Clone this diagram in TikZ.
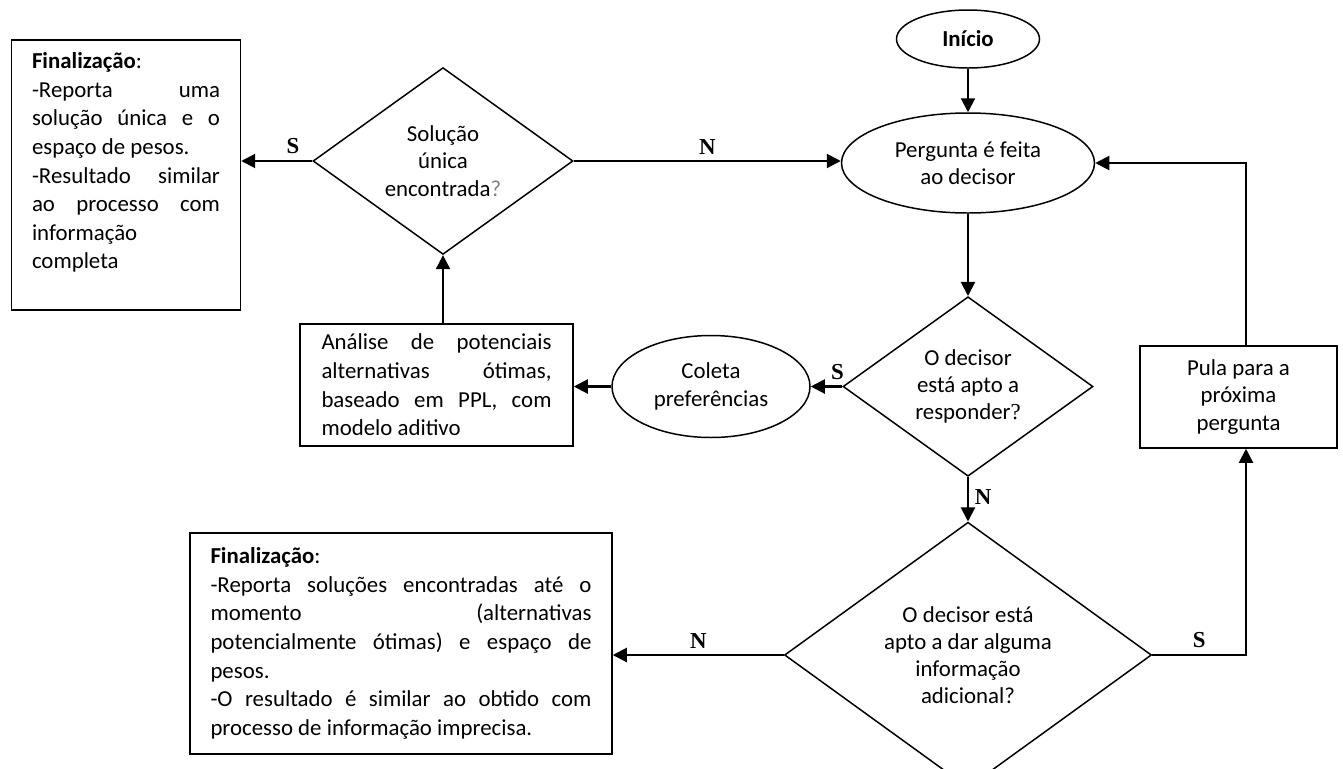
\documentclass[tikz,border=0pt]{standalone}
\usepackage{fontspec}
\setmainfont{Carlito}
\newfontfamily\lblfont{Liberation Serif}
\usetikzlibrary{arrows.meta, positioning, shapes.geometric, calc}
\setlength{\parindent}{0pt}
\tolerance=10000
\hyphenpenalty=10000
\exhyphenpenalty=10000

\begin{document}
\begin{tikzpicture}[
  box/.style={draw, line width=0.85pt, font=\fontsize{13}{16.3}\selectfont,
  align=justify, inner xsep=0.41cm, inner ysep=0.2cm},
  dec/.style={draw, diamond, line width=0.85pt, inner sep=0pt, align=center,
  font=\fontsize{13}{15.5}\selectfont},
  elip/.style={draw, ellipse, line width=0.85pt, inner sep=0pt, align=center,
  font=\fontsize{13}{15.5}\selectfont},
  arr/.style={-{Triangle[length=0.28cm, width=0.28cm]}, line width=1.15pt},
  lbl/.style={font=\lblfont\bfseries\fontsize{13}{15}\selectfont}
]
\useasboundingbox (0,0) rectangle (26.86,-15.38);

\node[elip, minimum width=2.86cm, minimum height=1.16cm] (ini) at (19.36,-0.78) {\textbf{Início}};
\node[elip, minimum width=5.06cm, minimum height=2.0cm] (perg) at (19.36,-3.26) {Pergunta é feita\\ao decisor};
\node[dec, minimum width=5.2cm, minimum height=3.44cm] (d1) at (8.86,-3.22) {Solução\\única\\encontrada{\color{gray}?}};
\node[box, text width=3.76cm, minimum height=5.4cm] (fin1) at (2.52,-3.5)
  {\textbf{Finalização}:\par -Reporta uma\linebreak solução única e o\linebreak espaço de pesos.\par
   -Resultado similar\linebreak ao processo com\linebreak informação\newline completa\par\rule{0pt}{1pt}};
\node[dec, minimum width=5.0cm, minimum height=3.5cm] (d2) at (19.36,-7.73) {O decisor\\está apto a\\responder{\lblfont ?}};
\node[elip, minimum width=3.96cm, minimum height=2.04cm] (coleta) at (14.22,-7.73) {Coleta\\preferências};
\node[box, text width=4.6cm, minimum height=2.44cm, inner xsep=0.43cm] (anal) at (8.73,-7.7)
  {Análise de potenciais\linebreak alternativas ótimas,\linebreak baseado em PPL, com\linebreak modelo aditivo};
\node[draw, line width=0.85pt, align=center, minimum width=3.94cm, minimum height=2.04cm,
  font=\fontsize{13}{15.5}\selectfont] (pula) at (24.77,-7.94) {Pula para a\\próxima\\pergunta};
\node[dec, minimum width=7.34cm, minimum height=4.88cm] (d3) at (19.36,-13.1) {O decisor está\\apto a dar alguma\\informação\\adicional?};
\node[box, text width=7.62cm, inner ysep=0.29cm] (fin2) at (8.02,-12.87)
  {\textbf{Finalização}:\par -Reporta soluções encontradas até o\linebreak momento (alternativas\linebreak potencialmente ótimas) e espaço de\linebreak pesos.\par
   -O resultado é similar ao obtido com\linebreak processo de informação imprecisa.};

% ligacoes
\draw[arr] (ini) -- (perg);
\draw[arr] (perg) -- (d2);
\draw[arr] (d1.west) -- node[lbl, above, pos=0.27] {S} (d1.west -| fin1.east);
\draw[arr] (d1.east) -- node[lbl, above] {N} (d1.east -| perg.west);
\draw[arr] (d2.west) -- node[lbl, above, pos=0.15] {S} (coleta.east);
\draw[arr] (coleta.west) -- (coleta.west -| anal.east);
\draw[arr] (d1.south |- anal.north) -- (d1.south);
\draw[arr] (d2.south) -- node[lbl, right, pos=0.45] {N} (d3.north);
\draw[arr] (d3.east) -| node[lbl, above, pos=0.25] {S} ([xshift=0.15cm]pula.south);
\draw[arr] ([xshift=0.15cm]pula.north) |- (perg.east);
\draw[arr] (d3.west) -- node[lbl, above] {N} (d3.west -| fin2.east);
\end{tikzpicture}
\end{document}
